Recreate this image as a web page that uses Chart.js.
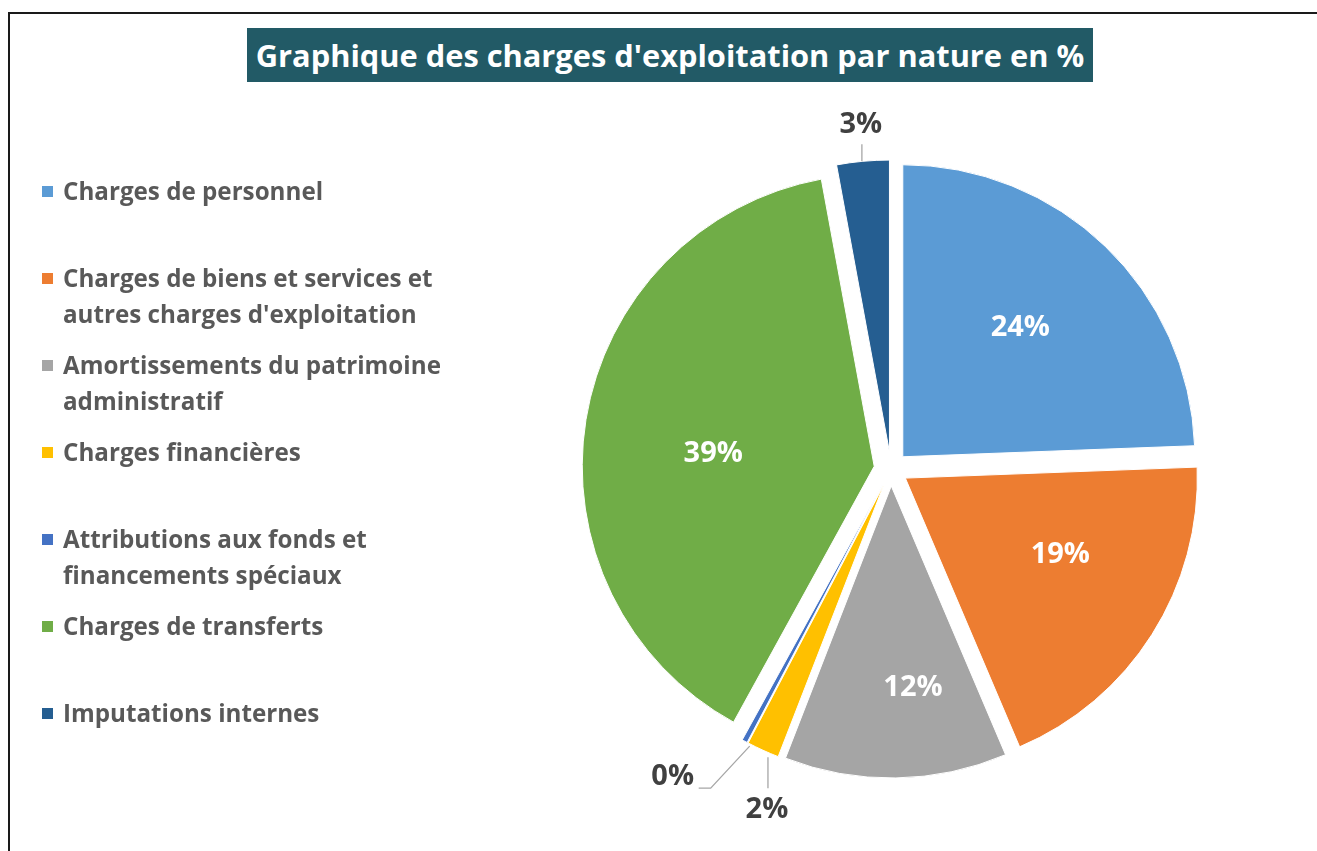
<!DOCTYPE html>
<html>
<head>
<meta charset="utf-8">
<script src="https://cdn.jsdelivr.net/npm/chart.js@4/dist/chart.umd.min.js"></script>
<style>
  html, body { margin: 0; padding: 0; background: #fff; }
  body { width: 1317px; height: 851px; position: relative; overflow: hidden; font-family: "Open Sans", sans-serif; }
  #cadre { position: absolute; left: 8px; top: 12px; width: 1400px; height: 900px; border-left: 2px solid #1a1a1a; border-top: 2px solid #1a1a1a; }
  #myChart { position: absolute; left: 0; top: 0; }
  #titre { position: absolute; left: 247px; top: 28px; width: 846px; height: 54px; background: #225a66; color: #fff; font-weight: 700; font-size: 30.8px; line-height: 54px; text-align: center; white-space: nowrap; }
  .item { position: absolute; left: 42px; color: #595959; font-weight: 700; font-size: 24.2px; line-height: 36px; }
  .item .carre { position: absolute; left: 0; top: 13px; width: 11px; height: 11px; }
  .item .txt { margin-left: 21px; white-space: nowrap; }
</style>
</head>
<body>
<div id="cadre"></div>
<canvas id="myChart" width="1317" height="851"></canvas>
<div id="titre"></div>
<div id="legende"></div>
<script>
const titleText = "Graphique des charges d'exploitation par nature en %";

const categories = [
  "Charges de personnel",
  ["Charges de biens et services et", "autres charges d'exploitation"],
  ["Amortissements du patrimoine", "administratif"],
  "Charges financières",
  ["Attributions aux fonds et", "financements spéciaux"],
  "Charges de transferts",
  "Imputations internes",
];
const values = [24.4, 19.2, 12.3, 1.8, 0.3, 39.1, 2.9];
const colors = ["#5B9BD5", "#ED7D31", "#A5A5A5", "#FFC000", "#4472C4", "#70AD47", "#255E91"];

const EXPLODE = 17;

// décalage de chaque part vers l'extérieur (comme l'explosion Excel)
const explodePlugin = {
  id: "explode",
  afterDatasetUpdate(chart, args) {
    args.meta.data.forEach((arc) => {
      const mid = (arc.startAngle + arc.endAngle) / 2;
      arc.x += Math.cos(mid) * EXPLODE;
      arc.y += Math.sin(mid) * EXPLODE;
    });
  },
};

// petits ajustements pour les étiquettes intérieures
const insideNudge = { 0: [-4, -3], 1: [7, -17], 2: [19, 27], 5: [12, 15] };
// lignes de repère pour les petites parts (relatif au bord extérieur)
const callouts = {
  3: { line: [[5, 7], [5, 38]], text: [4, 60] },
  4: { line: [[5, 5], [-34, 47], [-46, 47]], text: [-72, 36] },
  6: { line: [[-1, 0], [-1, -17]], text: [-2, -37] },
};

const labelPlugin = {
  id: "etiquettes",
  afterDatasetsDraw(chart) {
    const ctx = chart.ctx;
    const meta = chart.getDatasetMeta(0);
    const total = values.reduce((a, b) => a + b, 0);
    ctx.save();
    ctx.font = "bold 29px 'Open Sans'";
    ctx.textAlign = "center";
    ctx.textBaseline = "middle";
    meta.data.forEach((arc, i) => {
      const pct = Math.round((values[i] / total) * 100) + "%";
      const mid = (arc.startAngle + arc.endAngle) / 2;
      const dx = Math.cos(mid);
      const dy = Math.sin(mid);
      if (!callouts[i]) {
        const n = insideNudge[i] || [0, 0];
        const r = arc.outerRadius * 0.6;
        ctx.fillStyle = "#fff";
        ctx.fillText(pct, arc.x + dx * r + n[0], arc.y + dy * r + n[1]);
      } else {
        const ox = arc.x + dx * arc.outerRadius;
        const oy = arc.y + dy * arc.outerRadius;
        const c = callouts[i];
        ctx.strokeStyle = "#A6A6A6";
        ctx.lineWidth = 1.3;
        ctx.beginPath();
        c.line.forEach(([px, py], k) => {
          if (k === 0) ctx.moveTo(ox + px, oy + py);
          else ctx.lineTo(ox + px, oy + py);
        });
        ctx.stroke();
        ctx.fillStyle = "#404040";
        ctx.fillText(pct, ox + c.text[0], oy + c.text[1]);
      }
    });
    ctx.restore();
  },
};

document.getElementById("titre").textContent = titleText;

const legende = document.getElementById("legende");
categories.forEach((lab, i) => {
  const item = document.createElement("div");
  item.className = "item";
  item.style.top = 173 + i * 87 + "px";
  const carre = document.createElement("span");
  carre.className = "carre";
  carre.style.background = colors[i];
  const txt = document.createElement("div");
  txt.className = "txt";
  txt.innerHTML = [].concat(lab).join("<br>");
  item.appendChild(carre);
  item.appendChild(txt);
  legende.appendChild(item);
});

const configChart = {
  type: "pie",
  data: {
    labels: categories,
    datasets: [
      {
        data: values,
        backgroundColor: colors,
        borderColor: "#fff",
        borderWidth: 1,
        radius: 292,
      },
    ],
  },
  options: {
    responsive: false,
    animation: false,
    events: [],
    layout: { padding: { left: 480, right: 15, top: 100, bottom: 13 } },
    plugins: {
      legend: { display: false },
      tooltip: { enabled: false },
    },
  },
  plugins: [explodePlugin, labelPlugin],
};

const myChart = new Chart(document.getElementById("myChart"), configChart);
</script>
</body>
</html>
